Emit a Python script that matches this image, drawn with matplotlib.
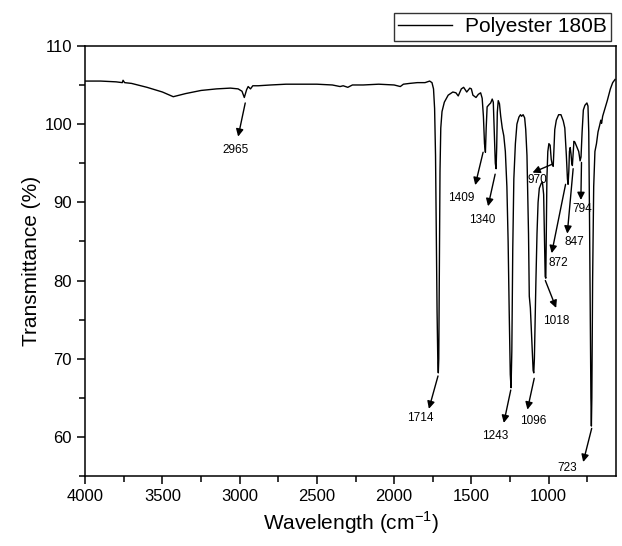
import matplotlib
matplotlib.use("Agg")
import matplotlib.pyplot as plt
from matplotlib.ticker import MultipleLocator

plt.rcParams['font.family'] = ['Liberation Sans', 'DejaVu Sans']
plt.rcParams['mathtext.fontset'] = 'custom'
plt.rcParams['mathtext.rm'] = 'Liberation Sans'

# FTIR spectrum (wavenumber cm-1, transmittance %)
wavenumber = [4000, 3900, 3800, 3760, 3755, 3745, 3700, 3600, 3500, 3430,
              3350, 3250, 3150, 3060, 3010, 2985, 2970, 2955, 2945, 2930,
              2915, 2880, 2800, 2700, 2600, 2500, 2400, 2350, 2330, 2300,
              2270, 2200, 2100, 2000, 1960, 1940, 1900, 1850, 1800, 1770,
              1755, 1745, 1738, 1732, 1728, 1722, 1717, 1714, 1711, 1707,
              1703, 1698, 1690, 1675, 1650, 1620, 1600, 1585, 1565, 1550,
              1530, 1510, 1500, 1490, 1470, 1455, 1440, 1430, 1422, 1415,
              1409, 1404, 1398, 1385, 1375, 1365, 1358, 1352, 1345, 1340,
              1336, 1332, 1326, 1318, 1310, 1300, 1290, 1280, 1270, 1262,
              1255, 1248, 1243, 1238, 1232, 1225, 1215, 1205, 1192, 1182,
              1175, 1165, 1155, 1148, 1140, 1130, 1125, 1118, 1110, 1100,
              1096, 1092, 1087, 1082, 1075, 1068, 1060, 1048, 1040, 1032,
              1026, 1022, 1018, 1015, 1011, 1005, 998, 990, 983, 976,
              970, 966, 960, 950, 935, 920, 905, 895, 885, 878,
              874, 869, 865, 860, 855, 850, 846, 842, 836, 830,
              815, 805, 796, 790, 783, 775, 765, 752, 745, 740,
              735, 730, 726, 723, 720, 715, 708, 700, 690, 680,
              670, 662, 657, 650, 635, 620, 600, 585, 570]
transmittance = [105.5, 105.5, 105.4, 105.3, 105.6, 105.3, 105.2, 104.7, 104.1, 103.5,
                 103.9, 104.3, 104.5, 104.6, 104.5, 104.2, 103.4, 104.4, 104.8, 104.5,
                 104.9, 104.9, 105.0, 105.1, 105.1, 105.1, 105.0, 104.8, 104.9, 104.7,
                 105.0, 105.0, 105.1, 105.0, 104.8, 105.1, 105.2, 105.3, 105.3, 105.5,
                 105.3, 104.5, 102.0, 96.0, 88.0, 76.0, 69.5, 68.2, 70.0, 82.0,
                 94.0, 99.5, 101.6, 102.8, 103.7, 104.1, 104.0, 103.6, 104.5, 104.7,
                 104.1, 104.6, 104.5, 103.7, 103.4, 103.8, 104.0, 103.3, 101.0, 97.5,
                 96.4, 99.5, 102.2, 102.5, 102.7, 103.2, 102.8, 99.0, 95.0, 94.3,
                 97.0, 101.5, 103.0, 102.6, 101.0, 99.5, 98.5, 96.5, 92.0, 85.0,
                 76.0, 68.0, 66.3, 71.0, 84.0, 93.0, 97.5, 100.0, 100.9, 101.2,
                 101.0, 101.2, 100.8, 99.3, 96.0, 86.0, 78.0, 76.5, 73.0, 68.5,
                 68.2, 70.0, 75.0, 80.0, 86.0, 90.0, 91.8, 92.4, 92.6, 91.0,
                 85.0, 80.5, 80.3, 86.0, 93.0, 96.5, 97.5, 97.3, 95.5, 94.8,
                 94.6, 96.5, 99.3, 100.5, 101.2, 101.2, 100.4, 99.5, 96.0, 93.0,
                 92.3, 94.0, 96.5, 97.0, 96.2, 95.0, 94.7, 96.0, 97.8, 97.7,
                 97.0, 96.5, 95.3, 95.8, 99.0, 101.8, 102.4, 102.7, 102.3, 99.0,
                 88.0, 75.0, 65.0, 61.4, 65.0, 80.0, 92.0, 96.5, 97.5, 99.0,
                 99.8, 100.5, 100.1, 101.0, 102.0, 103.0, 104.5, 105.3, 105.7]

# peak labels: text, arrow start (near peak), arrow end, text position
peak_labels = ['2965', '1714', '1409', '1340', '1243', '1096',
               '1018', '970', '872', '847', '794', '723']
arrow_start = [(2964, 102.7), (1716, 67.8), (1424, 96.4), (1346, 93.6),
               (1245, 66.0), (1093, 67.5), (1021, 80.0), (973, 94.9),
               (890, 92.3), (841, 94.3), (787, 95.1), (721, 61.1)]
arrow_end = [(3010, 98.4), (1775, 63.6), (1475, 92.2), (1392, 89.5),
             (1290, 61.8), (1137, 63.5), (951, 76.5), (1104, 93.8),
             (980, 83.5), (879, 86.0), (791, 90.3), (776, 56.8)]
text_pos = [(3028, 96.7), (1830, 62.4), (1563, 90.6), (1432, 87.7),
            (1345, 60.1), (1099, 62.1), (948, 74.8), (1075, 92.9),
            (940, 82.3), (835, 84.9), (783, 89.2), (881, 56.0)]

fig = plt.figure(figsize=(6.22, 5.46), dpi=100)
ax = fig.add_axes([0.137, 0.128, 0.853, 0.788])

ax.plot(wavenumber, transmittance, color='black', lw=1.0, label='Polyester 180B')

for lab, s, e, t in zip(peak_labels, arrow_start, arrow_end, text_pos):
    ax.annotate('', xy=e, xytext=s,
                arrowprops=dict(arrowstyle='-|>', color='black', lw=1.0,
                                mutation_scale=11, shrinkA=0, shrinkB=0))
    ax.text(t[0], t[1], lab, ha='center', va='center', fontsize=8.5)

ax.set_xlim(4000, 565)
ax.set_ylim(55, 110)
ax.xaxis.set_major_locator(MultipleLocator(500))
ax.xaxis.set_minor_locator(MultipleLocator(250))
ax.yaxis.set_major_locator(MultipleLocator(10))
ax.yaxis.set_minor_locator(MultipleLocator(5))
ax.tick_params(which='major', direction='out', length=6, width=1.1, labelsize=12)
ax.tick_params(which='minor', direction='out', length=4, width=1.1)
for sp in ax.spines.values():
    sp.set_linewidth(1.1)

ax.set_xlabel('Wavelength (cm$^{\\mathregular{-1}}$)', fontsize=15)
ax.set_ylabel('Transmittance (%)', fontsize=15, labelpad=2)

ax.legend(loc='lower right', bbox_to_anchor=(1.0, 1.0), borderaxespad=0.25,
          fontsize=15, frameon=True, fancybox=False, edgecolor='black',
          handlelength=2.6, borderpad=0.2, handletextpad=0.6)

fig.savefig('out.png', dpi=100)
